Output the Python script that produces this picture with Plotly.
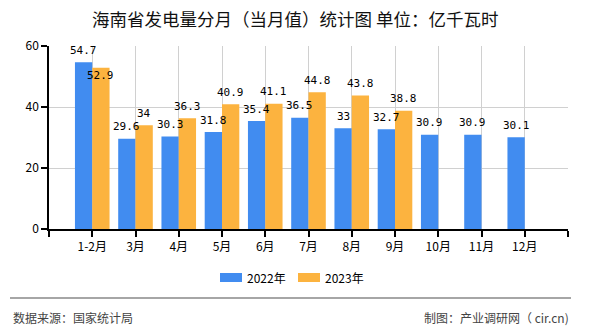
import plotly.graph_objects as go

categories = ["1-2月", "3月", "4月", "5月", "6月", "7月", "8月", "9月", "10月", "11月", "12月"]
values_2022 = [54.7, 29.6, 30.3, 31.8, 35.4, 36.5, 33, 32.7, 30.9, 30.9, 30.1]
values_2023 = [52.9, 34, 36.3, 40.9, 41.1, 44.8, 43.8, 38.8]
series_names = ["2022年", "2023年"]
title_text = "海南省发电量分月（当月值）统计图 单位：亿千瓦时"
source_text = "数据来源：国家统计局"
credit_text = "制图：产业调研网（ cir.cn)"

BLUE = "#418cf0"
ORANGE = "#fcb33f"
CJK = "Noto Sans CJK SC"
MONO = "DejaVu Sans Mono"

W, H = 590, 330
ML, MR, MT, MB = 49, 22, 46, 101
PW, PH = W - ML - MR, H - MT - MB

def px_x(p):
    return (p - ML) / PW

def px_y(p):
    return (H - MB - p) / PH

x22 = list(range(len(values_2022)))
x23 = list(range(len(values_2023)))

fig = go.Figure()
fig.add_trace(go.Bar(x=x22, y=values_2022, name=series_names[0], marker_color=BLUE,
                     marker_line_width=0, offsetgroup="a", showlegend=False))
fig.add_trace(go.Bar(x=x23, y=values_2023, name=series_names[1], marker_color=ORANGE,
                     marker_line_width=0, offsetgroup="b", showlegend=False))

annotations = []
for i, v in enumerate(values_2022):
    annotations.append(dict(x=i - 0.2, y=v, xref="x", yref="y", text=str(v), showarrow=False,
                            yanchor="middle", yshift=12, font=dict(family=MONO, size=11, color="#000")))
for i, v in enumerate(values_2023):
    shift = 12
    if abs(v - values_2022[i]) < 3:
        shift = -8
    annotations.append(dict(x=i + 0.2, y=v, xref="x", yref="y", text=str(v), showarrow=False,
                            yanchor="middle", yshift=shift, font=dict(family=MONO, size=11, color="#000")))

annotations.append(dict(x=px_x(295), xref="paper", y=px_y(18), yref="paper", text=title_text,
                        showarrow=False, xanchor="center", yanchor="middle",
                        font=dict(family=CJK, size=17.5, color="#111")))
annotations.append(dict(x=px_x(11), xref="paper", y=px_y(317), yref="paper", text=source_text,
                        showarrow=False, xanchor="left", yanchor="middle",
                        font=dict(family=CJK, size=12, color="#444")))
annotations.append(dict(x=px_x(571), xref="paper", y=px_y(317), yref="paper", text=credit_text,
                        showarrow=False, xanchor="right", yanchor="middle",
                        font=dict(family=CJK, size=12, color="#444")))

# custom legend
legend_items = [(series_names[0], BLUE, 220), (series_names[1], ORANGE, 298)]
shapes = [dict(type="line", xref="paper", yref="paper", x0=px_x(10), x1=px_x(571),
               y0=px_y(298), y1=px_y(298), line=dict(color="#888", width=1.5))]
for name, color, lx in legend_items:
    shapes.append(dict(type="rect", xref="paper", yref="paper", x0=px_x(lx), x1=px_x(lx + 22),
                       y0=px_y(273), y1=px_y(282), fillcolor=color, line=dict(width=0)))
    annotations.append(dict(x=px_x(lx + 25), xref="paper", y=px_y(277.5), yref="paper", text=name,
                            showarrow=False, xanchor="left", yanchor="middle",
                            font=dict(family=CJK, size=12, color="#000")))

tickvals = list(range(-1, len(categories) + 1))
ticktext = [""] + categories + [""]

fig.update_layout(
    width=W, height=H,
    margin=dict(l=ML, r=MR, t=MT, b=MB, pad=0),
    paper_bgcolor="white", plot_bgcolor="white",
    barmode="group", bargap=0.2, bargroupgap=0,
    showlegend=False,
    annotations=annotations,
    shapes=shapes,
    xaxis=dict(range=[-1, len(categories)], tickmode="array", tickvals=tickvals, ticktext=ticktext,
               showgrid=True, gridcolor="#d0d0d0", gridwidth=1,
               showline=True, linecolor="#000", linewidth=1.5,
               ticks="outside", ticklen=6, tickcolor="#000", tickwidth=1.5,
               zeroline=False, tickfont=dict(family=CJK, size=12, color="#000"), fixedrange=True),
    yaxis=dict(range=[0, 60], tickvals=[0, 20, 40, 60], showgrid=True, gridcolor="#d0d0d0", gridwidth=1,
               showline=True, linecolor="#000", linewidth=1.5,
               ticks="outside", ticklen=6, tickcolor="#000", tickwidth=1.5,
               zeroline=False, tickfont=dict(family=CJK, size=12, color="#000"), fixedrange=True),
)

fig.write_html("out.html", config={"displayModeBar": False})
